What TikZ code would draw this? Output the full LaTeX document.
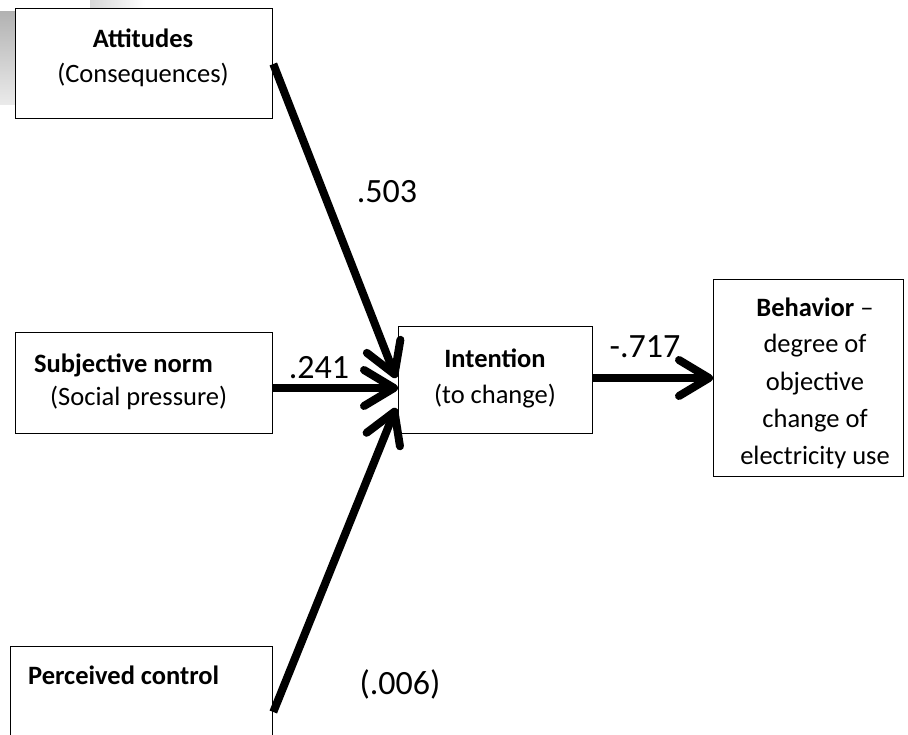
\documentclass[tikz,border=0pt]{standalone}
\usepackage{fontspec}
\setmainfont{Carlito}
\usetikzlibrary{arrows.meta}
\begin{document}
\begin{tikzpicture}[x=1pt,y=-1pt,
  box/.style={draw=black, line width=1.3pt, fill=white, inner sep=0pt, anchor=north west},
  txt/.style={inner sep=0pt, font=\fontsize{26.5}{32}\selectfont},
  btxt/.style={txt, font=\fontsize{26.5}{32}\selectfont\bfseries},
  coef/.style={inner sep=0pt, anchor=base, font=\fontsize{34}{40}\selectfont},
  path/.style={line width=8pt, -{Straight Barb[round, length=30pt, width=36pt]}}]
\useasboundingbox (0,0) rectangle (908,735);
\clip (0,0) rectangle (908,735);

% soft grey backdrop peeking out behind the first box
\shade[top color=black!30, bottom color=black!8] (0,12) rectangle (15,105);
\shade[left color=black!16, right color=white] (90,0) rectangle (145,8);

% boxes
\node[box, minimum width=257pt, minimum height=110pt] (att) at (15,8) {};
\node[box, minimum width=257pt, minimum height=101pt] (sn) at (15,332) {};
\node[box, minimum width=194pt, minimum height=107pt] (int) at (398,326) {};
\node[box, minimum width=190pt, minimum height=197pt] (beh) at (713,279) {};
\node[box, minimum width=262pt, minimum height=110pt] (pc) at (10,646) {};

% box texts
\node[btxt, anchor=base] (att1) at (143,48) {Attitudes};
\node[txt, anchor=base] (att2) at (143,83) {(Consequences)};
\node[btxt, anchor=base west] (sn1) at (34,373) {Subjective norm};
\node[txt, anchor=base west] (sn2) at (50,406) {(Social pressure)};
\node[btxt, anchor=base] (int1) at (495,368) {Intention};
\node[txt, anchor=base] (int2) at (495,403) {(to change)};
\node[txt, anchor=base] (beh1) at (815,317) {\textbf{Behavior} –};
\node[txt, anchor=base] (beh2) at (815,353) {degree of};
\node[txt, anchor=base] (beh3) at (815,390) {objective};
\node[txt, anchor=base] (beh4) at (815,427) {change of};
\node[txt, anchor=base] (beh5) at (815,464) {electricity use};
\node[btxt, anchor=base west] (pc1) at (28,684) {Perceived control};

% paths
\coordinate (attS) at (att.east |- 0,64);
\coordinate (snS) at (sn.east |- 0,388);
\coordinate (pcS) at (pc.east |- 0,712);
\coordinate (intA) at (396,378);
\coordinate (intB) at (int.west |- 0,388);
\coordinate (intC) at (396,408);
\coordinate (intD) at (int.east |- 0,378);
\coordinate (behA) at (beh.west |- 0,378);
\draw[path] (attS) -- (intA);
\draw[path] (snS) -- (intB);
\draw[path] (pcS) -- (intC);
\draw[path] (intD) -- (behA);

% path coefficients
\node[coef] (c1) at (387,203) {.503};
\node[coef] (c2) at (319,378) {.241};
\node[coef] (c3) at (645,358) {-.717};
\node[coef] (c4) at (400,694) {(.006)};
\end{tikzpicture}
\end{document}
